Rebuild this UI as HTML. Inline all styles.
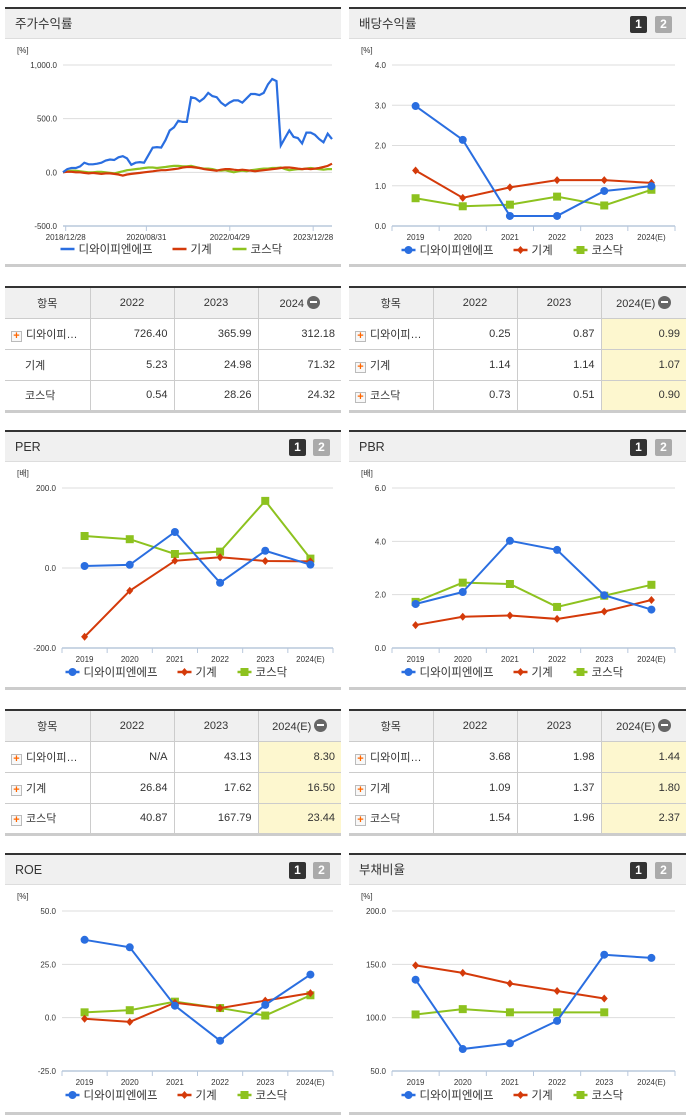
<!DOCTYPE html>
<html><head><meta charset="utf-8">
<style>
*{margin:0;padding:0;box-sizing:border-box}
body{width:691px;height:1115px;background:#fff;position:relative;overflow:hidden;font-family:"Liberation Sans","Noto Sans CJK KR",sans-serif;color:#333}
.panel{position:absolute;border-top:2px solid #333;border-bottom:3px solid #ccc}
.hdr{position:absolute;left:0;right:0;top:0;height:30px;background:#f0f0f0;border-bottom:1px solid #ddd;font-size:12.5px;line-height:30px;padding-left:10px;color:#333}
.b{position:absolute;top:7px;width:17px;height:17px;font-size:12px;font-weight:bold;line-height:17px;text-align:center;color:#fff;border-radius:2px}
.b1{background:#333;right:39px}.b2{background:#aaa;right:14px}
.lp .b1{right:35px}.lp .b2{right:11px}
table{position:absolute;border-collapse:collapse;font-size:11px;table-layout:fixed;border-top:2px solid #333;border-bottom:3px solid #ccc}
th{background:#f0f0f0;font-weight:normal;height:31px;border:1px solid #ccc;border-top:none;color:#333}
td{height:31px;border:1px solid #ccc;text-align:right;padding-right:6px;color:#333}
th:first-child,td:first-child{border-left:none}th:last-child,td:last-child{border-right:none}
td.n{text-align:left;padding-left:6px}
.hl{background:#fdf7cf}
.pl{display:inline-block;width:11px;height:11px;border:1px solid #bbb;background:#f8f8f8;color:#f60;font-size:11px;line-height:9px;text-align:center;font-weight:bold;vertical-align:-1px;margin-right:4px}
.mi{display:inline-block;width:13px;height:13px;border-radius:50%;background:#666;vertical-align:-2px;margin-left:3px;position:relative}
.mi:after{content:"";position:absolute;left:3px;top:5.5px;width:7px;height:2px;background:#fff}
svg{position:absolute;left:0;top:0}
</style></head><body>

<div class="panel lp" style="left:5px;top:7px;width:336px;height:260px"><div class="hdr">주가수익률</div></div>
<div class="panel" style="left:349px;top:7px;width:337px;height:260px"><div class="hdr">배당수익률</div><div class="b b1">1</div><div class="b b2">2</div></div>
<div class="panel lp" style="left:5px;top:430px;width:336px;height:260px"><div class="hdr">PER</div><div class="b b1">1</div><div class="b b2">2</div></div>
<div class="panel" style="left:349px;top:430px;width:337px;height:260px"><div class="hdr">PBR</div><div class="b b1">1</div><div class="b b2">2</div></div>
<div class="panel lp" style="left:5px;top:853px;width:336px;height:262px"><div class="hdr">ROE</div><div class="b b1">1</div><div class="b b2">2</div></div>
<div class="panel" style="left:349px;top:853px;width:337px;height:262px"><div class="hdr">부채비율</div><div class="b b1">1</div><div class="b b2">2</div></div>

<table style="left:5px;top:286px;width:336px">
<colgroup><col style="width:85px"><col style="width:84px"><col style="width:84px"><col></colgroup>
<tr><th>항목</th><th>2022</th><th>2023</th><th>2024<span class="mi"></span></th></tr>
<tr><td class="n"><span class="pl">+</span>디와이피…</td><td>726.40</td><td>365.99</td><td>312.18</td></tr>
<tr><td class="n" style="padding-left:20px">기계</td><td>5.23</td><td>24.98</td><td>71.32</td></tr>
<tr><td class="n" style="padding-left:20px">코스닥</td><td>0.54</td><td>28.26</td><td>24.32</td></tr>
</table>
<table style="left:349px;top:286px;width:337px">
<colgroup><col style="width:84px"><col style="width:84px"><col style="width:84px"><col></colgroup>
<tr><th>항목</th><th>2022</th><th>2023</th><th>2024(E)<span class="mi"></span></th></tr>
<tr><td class="n"><span class="pl">+</span>디와이피…</td><td>0.25</td><td>0.87</td><td class="hl">0.99</td></tr>
<tr><td class="n"><span class="pl">+</span>기계</td><td>1.14</td><td>1.14</td><td class="hl">1.07</td></tr>
<tr><td class="n"><span class="pl">+</span>코스닥</td><td>0.73</td><td>0.51</td><td class="hl">0.90</td></tr>
</table>
<table style="left:5px;top:709px;width:336px">
<colgroup><col style="width:85px"><col style="width:84px"><col style="width:84px"><col></colgroup>
<tr><th>항목</th><th>2022</th><th>2023</th><th>2024(E)<span class="mi"></span></th></tr>
<tr><td class="n"><span class="pl">+</span>디와이피…</td><td>N/A</td><td>43.13</td><td class="hl">8.30</td></tr>
<tr><td class="n"><span class="pl">+</span>기계</td><td>26.84</td><td>17.62</td><td class="hl">16.50</td></tr>
<tr><td class="n"><span class="pl">+</span>코스닥</td><td>40.87</td><td>167.79</td><td class="hl">23.44</td></tr>
</table>
<table style="left:349px;top:709px;width:337px">
<colgroup><col style="width:84px"><col style="width:84px"><col style="width:84px"><col></colgroup>
<tr><th>항목</th><th>2022</th><th>2023</th><th>2024(E)<span class="mi"></span></th></tr>
<tr><td class="n"><span class="pl">+</span>디와이피…</td><td>3.68</td><td>1.98</td><td class="hl">1.44</td></tr>
<tr><td class="n"><span class="pl">+</span>기계</td><td>1.09</td><td>1.37</td><td class="hl">1.80</td></tr>
<tr><td class="n"><span class="pl">+</span>코스닥</td><td>1.54</td><td>1.96</td><td class="hl">2.37</td></tr>
</table>

<svg id="cv" width="691" height="1115"></svg>

<script>
// ---- data ----
const years = ["2019","2020","2021","2022","2023","2024(E)"];
const seriesNames = ["디와이피엔에프","기계","코스닥"];
const stockDates = ["2018/12/28","2020/08/31","2022/04/29","2023/12/28"];
const stockTicks = [1000,500,0,-500];
const stockBlue = [0,30,40,40,55,90,75,75,80,90,110,120,115,140,150,130,70,90,95,90,160,230,235,230,300,390,420,480,470,470,700,690,660,690,740,710,700,650,620,650,670,670,650,690,730,730,720,740,820,870,850,250,320,390,330,320,270,370,370,350,310,280,360,310];
const stockRed = [0,5,5,0,0,-5,-10,-5,-10,-15,-10,-10,-15,-20,-30,-20,-15,-10,-5,0,5,10,15,20,20,25,30,35,45,50,50,45,40,30,25,20,15,25,30,30,25,20,25,20,15,10,15,20,25,30,35,40,45,45,40,35,30,35,30,35,40,50,60,80];
const stockGreen = [0,10,15,15,10,5,0,0,5,5,0,-5,-10,0,10,20,25,30,35,40,45,45,40,45,50,55,60,60,55,55,60,50,40,35,35,30,20,15,20,10,0,10,15,10,20,25,30,35,35,40,40,45,30,20,25,30,30,35,40,35,30,25,30,30];
const divTicks = [4,3,2,1,0];
const divBlue = [2.98,2.14,0.25,0.25,0.87,0.99];
const divRed = [1.38,0.70,0.96,1.14,1.14,1.07];
const divGreen = [0.69,0.49,0.53,0.73,0.51,0.90];
const perTicks = [200,0,-200];
const perBlue = [5,8,90,-37,43.13,8.30];
const perRed = [-172,-57,18,26.84,17.62,16.50];
const perGreen = [80,72,35,40.87,167.79,23.44];
const pbrTicks = [6,4,2,0];
const pbrBlue = [1.65,2.1,4.02,3.68,1.98,1.44];
const pbrRed = [0.86,1.17,1.22,1.09,1.37,1.80];
const pbrGreen = [1.73,2.45,2.4,1.54,1.96,2.37];
const roeTicks = [50,25,0,-25];
const roeBlue = [36.5,33,5.6,-10.8,6,20.2];
const roeRed = [-0.5,-2,7,4.5,8,11.5];
const roeGreen = [2.5,3.5,7.5,4.5,1,10.5];
const debtTicks = [200,150,100,50];
const debtBlue = [135.6,70.6,76,97,159,156];
const debtRed = [149,142,132,125,118,null];
const debtGreen = [103,108,105,105,105,null];

const COL = ["#2a6ee0","#d43a0a","#8dc21f"];
const NS = "http://www.w3.org/2000/svg";
const svg = document.getElementById("cv");
function el(tag, attrs, parent){const e=document.createElementNS(NS,tag);for(const k in attrs)e.setAttribute(k,attrs[k]);(parent||svg).appendChild(e);return e;}
function txt(x,y,s,size,anchor,fill,parent){const t=el("text",{x:x,y:y,"font-size":size,"text-anchor":anchor||"start",fill:fill||"#333","font-family":"Liberation Sans, Noto Sans CJK KR, sans-serif"},parent);t.textContent=s;return t;}

function frame(g, L, R, T, B, ticks, vmin, vmax, unit, fmt, unitX){
  const y = v => B - (v - vmin) / (vmax - vmin) * (B - T);
  txt(unitX, T-12, unit, 8, "start", "#333", g);
  ticks.forEach(t=>{
    const yy=y(t);
    if(t!==vmin){const gl=el("line",{x1:L,x2:R,y1:yy,y2:yy,stroke:"#ddd","stroke-width":1},g);}
    const lb=txt(L-6,yy+3,fmt(t),8,"end","#333",g);
    
  });
  el("line",{x1:L,x2:R,y1:B,y2:B,stroke:"#b8c8dc","stroke-width":1.5},g);
  return y;
}
function legend(g, cx, yy, markers){
  const widths=[90,38,50];let total=0;widths.forEach(w=>total+=w+22);
  let x=cx-total/2;
  seriesNames.forEach((n,i)=>{
    const it=el("g",{},g);
    
    
    el("line",{x1:x,x2:x+14,y1:yy-4,y2:yy-4,stroke:COL[i],"stroke-width":2.5},it);
    if(markers)marker(it,markers[i],x+7,yy-4,COL[i]);
    txt(x+18,yy,n,11.5,"start","#333",it);
    x+=widths[i]+22;
  });
}
function marker(g,type,x,y,c){
  if(type==="c")el("circle",{cx:x,cy:y,r:4,fill:c},g);
  else if(type==="d")el("path",{d:`M${x} ${y-4}L${x+3.5} ${y}L${x} ${y+4}L${x-3.5} ${y}Z`,fill:c},g);
  else el("rect",{x:x-4,y:y-4,width:8,height:8,fill:c},g);
}
function catChart(name, L, R, T, B, ticks, vmin, vmax, unit, unitX, data){
  const g=el("g",{});
  
  
  const y=frame(g,L,R,T,B,ticks,vmin,vmax,unit,v=>v.toFixed(1),unitX);
  const step=(R-L)/years.length;
  const x=i=>L+step*(i+0.5);
  years.forEach((yr,i)=>{
    el("line",{x1:L+step*i,x2:L+step*i,y1:B,y2:B+5,stroke:"#b8c8dc"},g);
    const lb=txt(x(i),B+14,yr,8,"middle","#333",g);
    
  });
  el("line",{x1:R,x2:R,y1:B,y2:B+5,stroke:"#b8c8dc"},g);
  const mk=["c","d","s"];
  [2,1,0].forEach(si=>{
    const vals=data[si];let d="";
    vals.forEach((v,i)=>{if(v==null)return;d+=(d?"L":"M")+x(i)+" "+y(v);});
    const p=el("path",{d:d,fill:"none",stroke:COL[si],"stroke-width":2},g);
    
    vals.forEach((v,i)=>{if(v==null)return;const m=el("g",{},g);marker(m,mk[si],x(i),y(v),COL[si]);});
  });
  legend(g,(L+R)/2-10,B+28,["c","d","s"]);
}

// stock chart
(function(){
  const g=el("g",{});
  
  
  const L=63,R=332,T=65,B=226;
  const y=frame(g,L,R,T,B,stockTicks,-500,1000,"[%]",v=>v.toLocaleString("en-US",{minimumFractionDigits:1}),17);
  const n=stockBlue.length;
  const x=i=>L+ (R-L)*i/(n-1);
  const dx=[0.01,0.31,0.62,0.93];
  stockDates.forEach((d,i)=>{
    const xx=L+(R-L)*dx[i];
    el("line",{x1:xx,x2:xx,y1:B,y2:B+5,stroke:"#b8c8dc"},g);
    const lb=txt(xx,B+14,d,8,"middle","#333",g);
    
  });
  [[stockGreen,2],[stockRed,1],[stockBlue,0]].forEach(([vals,si])=>{
    const d=vals.map((v,i)=>(i?"L":"M")+x(i).toFixed(1)+" "+y(v).toFixed(1)).join("");
    const p=el("path",{d:d,fill:"none",stroke:COL[si],"stroke-width":2.2},g);
    
  });
  legend(g,(L+R)/2-15,B+27,null);
})();

catChart("dividend-chart",392,675,65,226,divTicks,0,4,"[%]",361,[divBlue,divRed,divGreen]);
catChart("per-chart",62,333,488,648,perTicks,-200,200,"[배]",17,[perBlue,perRed,perGreen]);
catChart("pbr-chart",392,675,488,648,pbrTicks,0,6,"[배]",361,[pbrBlue,pbrRed,pbrGreen]);
catChart("roe-chart",62,333,911,1071,roeTicks,-25,50,"[%]",17,[roeBlue,roeRed,roeGreen]);
catChart("debt-ratio-chart",392,675,911,1071,debtTicks,50,200,"[%]",361,[debtBlue,debtRed,debtGreen]);
</script>
</body></html>
